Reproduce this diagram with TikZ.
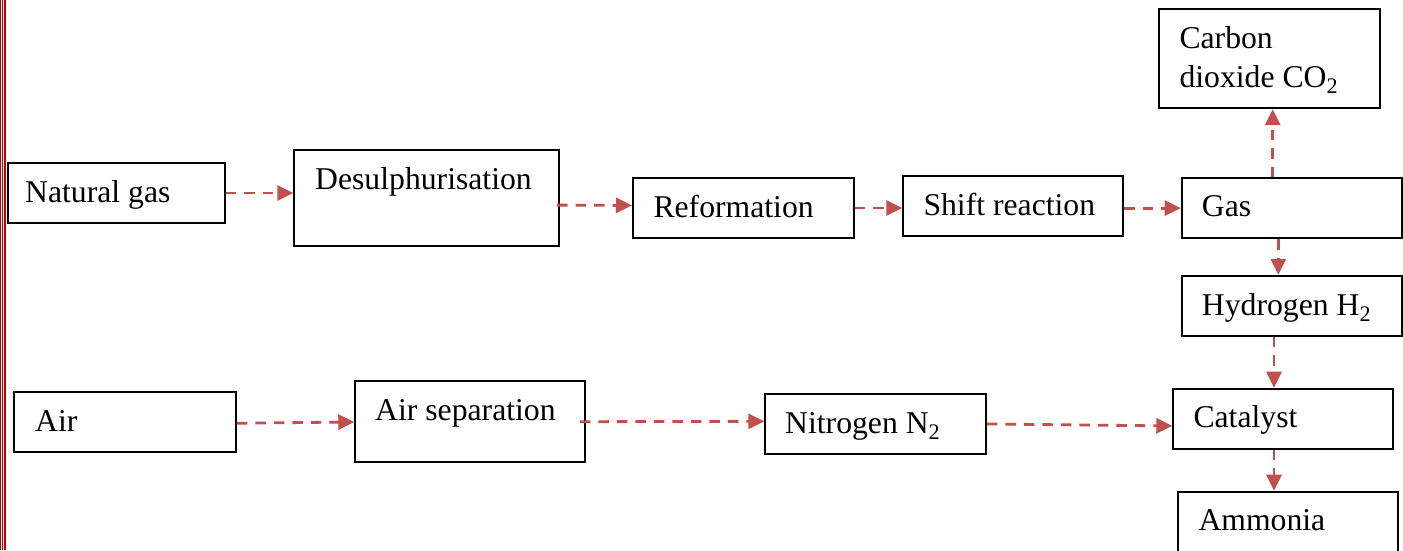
\documentclass[tikz,border=0pt]{standalone}
\usepackage{fontspec}
\setmainfont{Liberation Serif}
\usetikzlibrary{arrows.meta,calc}
\definecolor{arrred}{HTML}{C0504D}
\definecolor{bordred}{HTML}{C00000}
\tikzset{
  box/.style={draw=black, line width=1.9pt, rectangle, inner sep=0pt, anchor=north west},
  lbl/.style={inner sep=0pt, anchor=base west, font=\fontsize{31.7}{39.6}\selectfont, align=left},
  flow/.style={draw=arrred, line width=2.8pt, dash pattern=on 10.5pt off 8pt,
    -{Triangle[length=16pt,width=15pt]}, shorten <=0pt},
}
\begin{document}
\begin{tikzpicture}[x=1pt,y=-1pt]
\useasboundingbox (0,0) rectangle (1403,550);
% left red border lines
\draw[bordred, line width=1pt] (0.5,0) -- (0.5,550);
\draw[bordred, line width=1pt] (2.8,0) -- (2.8,550);
\draw[bordred, line width=2pt] (5.3,0) -- (5.3,550);
% boxes
\node[box, minimum width=217pt, minimum height=60pt] (ng) at (7,161.7) {};
\node[box, minimum width=265pt, minimum height=95.7pt] (des) at (293.3,149.3) {};
\node[box, minimum width=220.7pt, minimum height=60.6pt] (ref) at (632,176.7) {};
\node[box, minimum width=220pt, minimum height=60pt] (shift) at (902.3,175) {};
\node[box, minimum width=220pt, minimum height=60.3pt] (gas) at (1180.7,177) {};
\node[box, minimum width=220.4pt, minimum height=99pt] (co2) at (1158.3,8.3) {};
\node[box, minimum width=220pt, minimum height=60pt] (h2) at (1180.7,275) {};
\node[box, minimum width=220pt, minimum height=60pt] (cat) at (1172.3,387.7) {};
\node[box, minimum width=220pt, minimum height=63pt] (amm) at (1176.7,490.7) {};
\node[box, minimum width=221.7pt, minimum height=60pt] (air) at (13.3,391) {};
\node[box, minimum width=229.7pt, minimum height=80.7pt] (asep) at (354.3,380) {};
\node[box, minimum width=220.7pt, minimum height=59.4pt] (nit) at (764.3,393.3) {};
% labels
\node[lbl] (tng) at (25,202.5) {Natural gas};
\node[lbl] (tdes) at (315,189.8) {Desulphurisation};
\node[lbl] (tref) at (653.3,217.2) {Reformation};
\node[lbl] (tshift) at (923.3,215.5) {Shift reaction};
\node[lbl] (tgas) at (1201.7,216.5) {Gas};
\node[lbl] (tco2) at (1179.3,87.8) {Carbon\\dioxide CO\textsubscript{2}};
\node[lbl] (th2) at (1201.7,315.5) {Hydrogen H\textsubscript{2}};
\node[lbl] (tcat) at (1193.3,427.2) {Catalyst};
\node[lbl] (tamm) at (1198.3,530.5) {Ammonia};
\node[lbl] (tair) at (35,431.2) {Air};
\node[lbl] (tasep) at (375,420.5) {Air separation};
\node[lbl] (tnit) at (785,433.8) {Nitrogen N\textsubscript{2}};
% vertical guide coordinates
\coordinate (vco) at (1272.7,0);
\coordinate (vh) at (1278.3,0);
\coordinate (vc) at (1274,0);
% connectors
\draw[flow] (ng.east |- 0,193) -- (des.west |- 0,193);
\draw[flow] ($(des.east)+(-3,7)$) -- ($(ref.west)+(0,-2.5)$);
\draw[flow] (ref.east) -- (ref.east -| shift.west);
\draw[flow] (shift.east |- gas.west) -- (gas.west);
\draw[flow] (gas.north -| vco) -- (co2.south -| vco);
\draw[flow] (gas.south -| vh) -- (h2.north -| vh);
\draw[flow] (h2.south -| vc) -- (cat.north -| vc);
\draw[flow] (cat.south -| vc) -- (amm.north -| vc);
\draw[flow] ($(air.east)+(0,1.3)$) -- (air.east -| asep.west);
\draw[flow] ($(asep.east)+(-6,0.4)$) -- (asep.east -| nit.west);
\draw[flow] (nit.east) -- ($(cat.west)+(0,7.3)$);
\end{tikzpicture}
\end{document}
